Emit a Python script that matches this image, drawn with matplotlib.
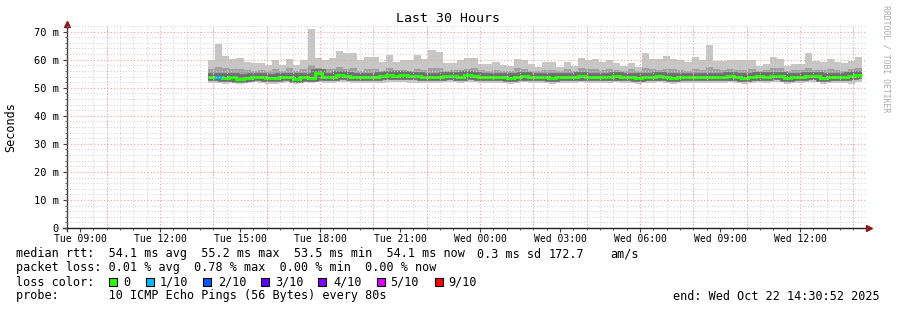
import matplotlib
matplotlib.use('Agg')
import matplotlib.pyplot as plt
import matplotlib.dates as mdates
from matplotlib.patches import Rectangle
from datetime import datetime, timedelta

plt.rcParams['font.family'] = ['DejaVu Sans Mono']

# 16 minute consolidated steps, 92 of them
step_start = datetime(2025, 10, 21, 13, 48)
step_minutes = 16

# ping smoke, in ms (max ping, upper band, lower band, min ping) and median
p_max = [59.8, 65.7, 61.2, 60.2, 60.6, 59.0, 58.9, 58.8, 58.2, 59.8, 58.0, 60.3, 58.0, 59.8, 71.0, 60.6, 59.8, 60.7, 63.0,
         62.3, 62.3, 59.8, 61.0, 61.0, 59.2, 61.8, 59.2, 60.0, 60.0, 61.8, 60.2, 63.3, 62.9, 58.9, 58.9, 59.8, 60.6,
         60.6, 58.4, 58.4, 59.2, 58.0, 57.6, 60.2, 59.8, 58.6, 57.4, 59.2, 59.0, 57.4, 59.2, 57.8, 60.6, 60.0, 60.2, 59.0,
         59.8, 58.9, 57.8, 58.9, 57.4, 62.3, 60.2, 60.2, 61.4, 60.2, 60.0, 59.0, 61.0, 59.8, 65.3, 59.5, 59.5, 60.0, 59.8,
         59.8, 60.0, 57.8, 58.6, 61.0, 60.4, 57.8, 58.6, 58.6, 62.5, 59.5, 59.2, 60.2, 59.0, 58.9, 59.5, 61.0]
p_hi = [56.5, 57.5, 57.0, 56.8, 56.5, 56.2, 56.0, 56.3, 55.8, 56.5, 56.0, 57.0, 56.0, 56.8, 58.0, 57.0, 56.6, 56.8, 57.3,
        56.5, 57.0, 56.0, 56.5, 56.8, 56.0, 57.0, 56.3, 56.4, 56.0, 56.8, 56.2, 57.2, 57.0, 56.0, 56.2, 56.4, 56.8,
        57.0, 56.3, 56.0, 56.4, 55.8, 56.0, 57.0, 56.6, 56.0, 55.8, 56.4, 56.2, 55.8, 56.5, 56.0, 57.0, 56.5, 56.8, 56.3,
        56.6, 56.2, 56.0, 56.5, 55.8, 57.0, 56.5, 56.2, 56.8, 56.5, 56.4, 56.0, 56.8, 56.4, 57.5, 56.6, 56.3, 56.8, 56.4,
        56.2, 56.6, 55.8, 56.3, 57.2, 57.0, 55.8, 56.4, 56.2, 57.0, 56.3, 56.2, 56.8, 56.2, 56.0, 56.6, 57.0]
p_lo = [52.8, 52.6, 52.5, 52.8, 52.4, 52.7, 52.9, 52.7, 52.5, 52.4, 52.8, 52.9, 52.4, 52.9, 52.6, 53.2, 52.8, 52.7, 53.0,
        52.9, 52.8, 52.8, 52.8, 52.7, 52.9, 53.0, 52.9, 53.0, 52.9, 52.8, 52.8, 52.8, 52.8, 52.9, 52.9, 52.8, 53.0,
        52.9, 52.8, 52.7, 52.8, 52.8, 52.4, 52.8, 52.9, 52.8, 52.7, 52.8, 52.4, 52.8, 52.7, 52.8, 52.9, 52.7, 52.8, 52.8,
        52.8, 52.9, 52.8, 52.7, 52.4, 52.8, 52.8, 52.9, 52.8, 52.4, 52.8, 52.8, 52.7, 52.8, 52.8, 52.8, 52.8, 52.9, 52.8,
        52.4, 52.8, 52.9, 52.8, 52.9, 52.9, 52.4, 52.8, 52.8, 52.9, 52.9, 52.4, 52.8, 52.8, 52.8, 52.9, 53.0]
p_min = [51.8, 51.6, 51.4, 51.8, 51.5, 51.7, 52.0, 51.8, 51.5, 51.4, 51.8, 52.0, 51.5, 52.0, 51.7, 52.2, 51.8, 51.7, 52.0,
         51.9, 51.8, 51.8, 51.7, 51.6, 51.8, 52.0, 51.9, 52.0, 51.8, 51.8, 51.7, 51.8, 51.8, 51.9, 51.9, 51.8, 52.0,
         51.9, 51.8, 51.6, 51.8, 51.8, 51.3, 51.8, 51.9, 51.7, 51.6, 51.8, 51.3, 51.8, 51.6, 51.8, 51.9, 51.6, 51.8, 51.8,
         51.7, 51.9, 51.8, 51.6, 51.3, 51.8, 51.8, 51.9, 51.8, 51.3, 51.8, 51.7, 51.6, 51.8, 51.7, 51.8, 51.8, 51.9, 51.8,
         51.3, 51.7, 51.9, 51.8, 51.9, 51.9, 51.3, 51.8, 51.8, 51.9, 51.9, 51.3, 51.8, 51.7, 51.8, 51.2, 52.0]
median = [53.9, 53.7, 53.3, 53.7, 53.1, 53.6, 53.9, 53.7, 53.3, 53.3, 53.7, 53.9, 53.1, 53.9, 53.6, 55.1, 53.9, 53.7, 54.5,
          54.2, 53.9, 53.9, 53.9, 53.9, 54.1, 54.5, 54.2, 54.5, 54.2, 54.1, 53.9, 53.9, 53.9, 54.1, 54.1, 53.9, 54.5,
          54.2, 53.9, 53.7, 53.9, 53.9, 53.3, 53.9, 54.1, 53.9, 53.7, 53.9, 53.3, 53.9, 53.7, 53.9, 54.2, 53.7, 53.9, 53.9,
          53.9, 54.2, 53.9, 53.7, 53.3, 53.9, 53.9, 54.1, 53.9, 53.3, 53.9, 53.9, 53.7, 53.9, 53.9, 53.9, 53.9, 54.2, 53.9,
          53.3, 53.9, 54.1, 53.9, 54.1, 54.2, 53.3, 53.9, 53.9, 54.1, 54.1, 53.3, 53.9, 53.9, 53.9, 54.1, 54.5]
loss = [0, 1] + [0] * 90

loss_names = ['0', '1/10', '2/10', '3/10', '4/10', '5/10', '9/10']
loss_colors = ['#26ff00', '#00b8ff', '#0059ff', '#5e00ff', '#7e00ff', '#dd00ff', '#ff0000']

view_end = datetime(2025, 10, 22, 14, 30, 52)
view_start = view_end - timedelta(hours=30)

W, H = 897, 310
fig = plt.figure(figsize=(W / 100, H / 100), dpi=100)
fig.patch.set_facecolor('white')
ax = fig.add_axes([67 / W, 1 - 228 / H, 800 / W, 202 / H])

edges = mdates.date2num([step_start + timedelta(minutes=step_minutes * i) for i in range(len(median) + 1)])

# smoke
ax.stairs(p_max, edges, baseline=p_min, fill=True, color='#c6c6c6', lw=0)
ax.stairs(p_hi, edges, baseline=p_lo, fill=True, color='#a0a0a0', lw=0)
ax.stairs(median, edges, baseline=None, color='#6e6e6e', lw=5.5)
ax.stairs(median, edges, baseline=None, color=loss_colors[0], lw=2.2)
for i, l in enumerate(loss):
    if l > 0:
        ax.hlines(median[i], edges[i], edges[i + 1], colors=loss_colors[l], lw=2.2)

ax.set_xlim(mdates.date2num(view_start), mdates.date2num(view_end))
ax.set_ylim(0, 72)

# grid
ax.yaxis.set_major_locator(plt.MultipleLocator(10))
ax.yaxis.set_minor_locator(plt.MultipleLocator(2))
ax.yaxis.set_major_formatter(plt.FuncFormatter(lambda v, p: '0' if v == 0 else f'{int(v)} m'))
ax.xaxis.set_major_locator(mdates.HourLocator(byhour=range(0, 24, 3)))
ax.xaxis.set_minor_locator(mdates.MinuteLocator(byminute=[0, 30]))
ax.xaxis.set_major_formatter(mdates.DateFormatter('%a %H:%M'))

ax.grid(which='minor', color='#d0d0d0', linestyle=(0, (1, 2)), lw=0.7)
ax.grid(which='major', axis='y', color='#f0a0a0', linestyle=(0, (1, 2)), lw=0.8)
for t in mdates.HourLocator(byhour=range(0, 24, 2)).tick_values(view_start, view_end):
    ax.axvline(t, color='#f0a0a0', linestyle=(0, (1, 2)), lw=0.8)
ax.set_axisbelow(False)

for s in ax.spines.values():
    s.set_visible(False)
ax.plot([0, 0], [-0.015, 1.0], transform=ax.transAxes, clip_on=False, color='#404040', lw=1)
ax.plot([-0.005, 1.0], [0, 0], transform=ax.transAxes, clip_on=False, color='#202020', lw=1)
ax.plot(0, 1.012, marker='^', transform=ax.transAxes, clip_on=False, color='#8b1a1a', ms=4)
ax.plot(1.003, 0, marker='>', transform=ax.transAxes, clip_on=False, color='#8b1a1a', ms=4)

ax.tick_params(which='major', length=3, width=0.8, color='#404040', labelsize=7, pad=3)
ax.tick_params(which='minor', length=1.5, width=0.6, color='#404040')
ax.tick_params(axis='x', pad=1.5)
ax.tick_params(axis='y', labelsize=7.5)

fig.text(11 / W, 1 - 127 / H, 'Seconds', rotation=90, ha='center', va='center', fontsize=8.5)
fig.text(448 / W, 1 - 19 / H, 'Last 30 Hours', ha='center', va='center', fontsize=9.5)
fig.text(886 / W, 1 - 5 / H, 'RRDTOOL / TOBI OETIKER', rotation=270, ha='center', va='top',
         fontsize=5.9, color='#aaaaaa')

fs = 8.5
def ftxt(x, y, s, **kw):
    fig.text(x / W, 1 - y / H, s, va='center', fontsize=fs, **kw)

ftxt(16, 254, 'median rtt:  54.1 ms avg  55.2 ms max  53.5 ms min  54.1 ms now')
ftxt(477, 254, '0.3 ms sd')
ftxt(549, 254, '172.7')
ftxt(610, 254, 'am/s')
ftxt(16, 268, 'packet loss: 0.01 % avg  0.78 % max  0.00 % min  0.00 % now')
ftxt(16, 282, 'loss color:')
box_x = [109, 146, 203, 261, 318, 377, 435]
text_x = [123, 160, 218, 275, 333, 390, 448]
for bx, tx, name, col in zip(box_x, text_x, loss_names, loss_colors):
    fig.add_artist(Rectangle((bx / W, 1 - 286 / H), 8 / W, 8 / H, transform=fig.transFigure,
                             facecolor=col, edgecolor='black', lw=0.8))
    ftxt(tx, 282, name)
ftxt(16, 296, 'probe:       10 ICMP Echo Pings (56 Bytes) every 80s')
ftxt(880, 296, 'end: Wed Oct 22 14:30:52 2025', ha='right')

fig.savefig('out.png', dpi=100, facecolor='white')
